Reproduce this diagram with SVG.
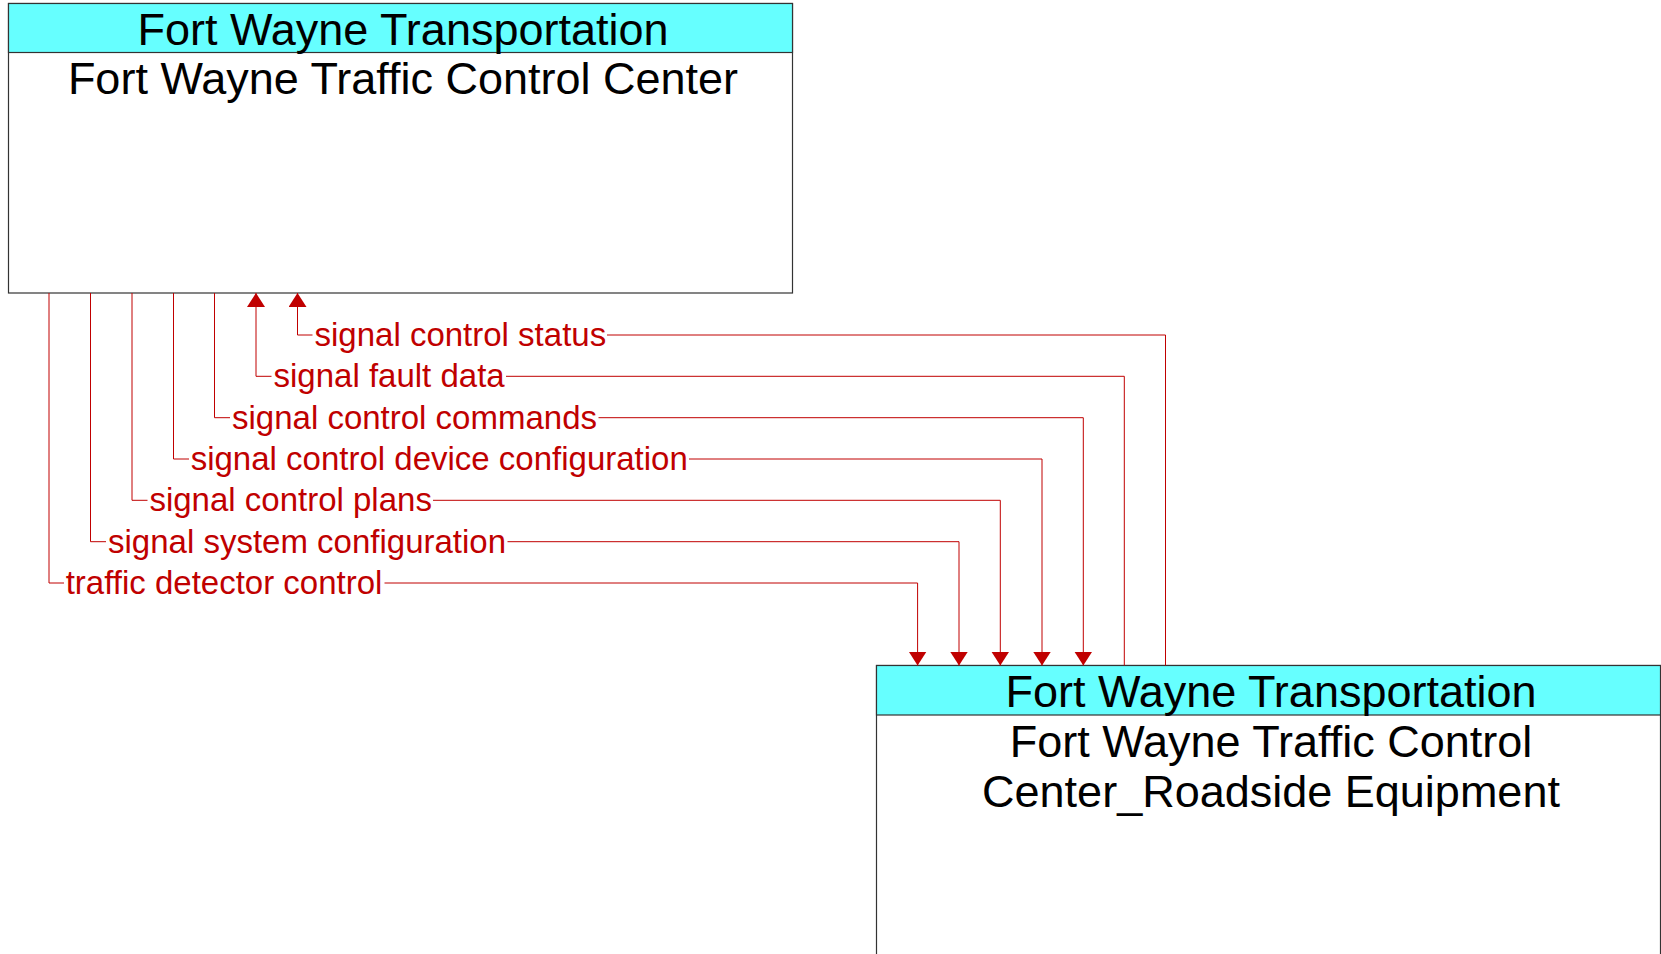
<svg xmlns="http://www.w3.org/2000/svg" width="1661" height="954" viewBox="0 0 1661 954">
<style>
.box{fill:#ffffff;stroke:#333333;stroke-width:1.2}
.hdr{fill:#66ffff;stroke:#333333;stroke-width:1.2}
.t{font-family:"Liberation Sans",Arial,sans-serif;font-size:45px;fill:#000000;text-anchor:middle}
.c{fill:none;stroke:#c00000;stroke-width:1}
.l{font-family:"Liberation Sans",Arial,sans-serif;font-size:33px;fill:#c00000}
</style>
<defs>
<marker id="ah" markerUnits="userSpaceOnUse" markerWidth="15" markerHeight="18" viewBox="0 0 15 18" refX="14" refY="9" orient="auto">
<path d="M0,0 L14,9 L0,18 Z" fill="#c00000"/>
</marker>
</defs>
<g id="node-tcc">
<rect class="box" x="8.5" y="3.5" width="784" height="289.5"/>
<rect class="hdr" x="8.5" y="3.5" width="784" height="49"/>
<text class="t" x="403" y="45">Fort Wayne Transportation</text>
<text class="t" x="403" y="93.5">Fort Wayne Traffic Control Center</text>
</g>
<g id="node-rse">
<rect class="box" x="876.5" y="665.5" width="784" height="300"/>
<rect class="hdr" x="876.5" y="665.5" width="784" height="49.5"/>
<text class="t" x="1271" y="707">Fort Wayne Transportation</text>
<text class="t" x="1271" y="756.5">Fort Wayne Traffic Control</text>
<text class="t" x="1271" y="806.5">Center_Roadside Equipment</text>
</g>
<g id="connectors">
<path class="c" d="M1165.5,665.5 V335 H607"/>
<path class="c" d="M312.5,335 H297.5 V293" marker-end="url(#ah)"/>
<text class="l" x="314.5" y="346">signal control status</text>
<path class="c" d="M1124.3,665.5 V376.3 H506"/>
<path class="c" d="M271.5,376.3 H256 V293" marker-end="url(#ah)"/>
<text class="l" x="273.5" y="387.3">signal fault data</text>
<path class="c" d="M214.5,293 V417.7 H230"/>
<path class="c" d="M598.5,417.7 H1083.3 V665.5" marker-end="url(#ah)"/>
<text class="l" x="232" y="428.7">signal control commands</text>
<path class="c" d="M173.5,293 V459 H189"/>
<path class="c" d="M689,459 H1042 V665.5" marker-end="url(#ah)"/>
<text class="l" x="190.7" y="470">signal control device configuration</text>
<path class="c" d="M132,293 V500.3 H147.5"/>
<path class="c" d="M433,500.3 H1000.3 V665.5" marker-end="url(#ah)"/>
<text class="l" x="149.4" y="511.3">signal control plans</text>
<path class="c" d="M90.5,293 V541.7 H106"/>
<path class="c" d="M507.5,541.7 H959 V665.5" marker-end="url(#ah)"/>
<text class="l" x="108" y="552.7">signal system configuration</text>
<path class="c" d="M49,293 V583 H64"/>
<path class="c" d="M384.5,583 H917.6 V665.5" marker-end="url(#ah)"/>
<text class="l" x="65.7" y="594">traffic detector control</text>
</g>
</svg>
